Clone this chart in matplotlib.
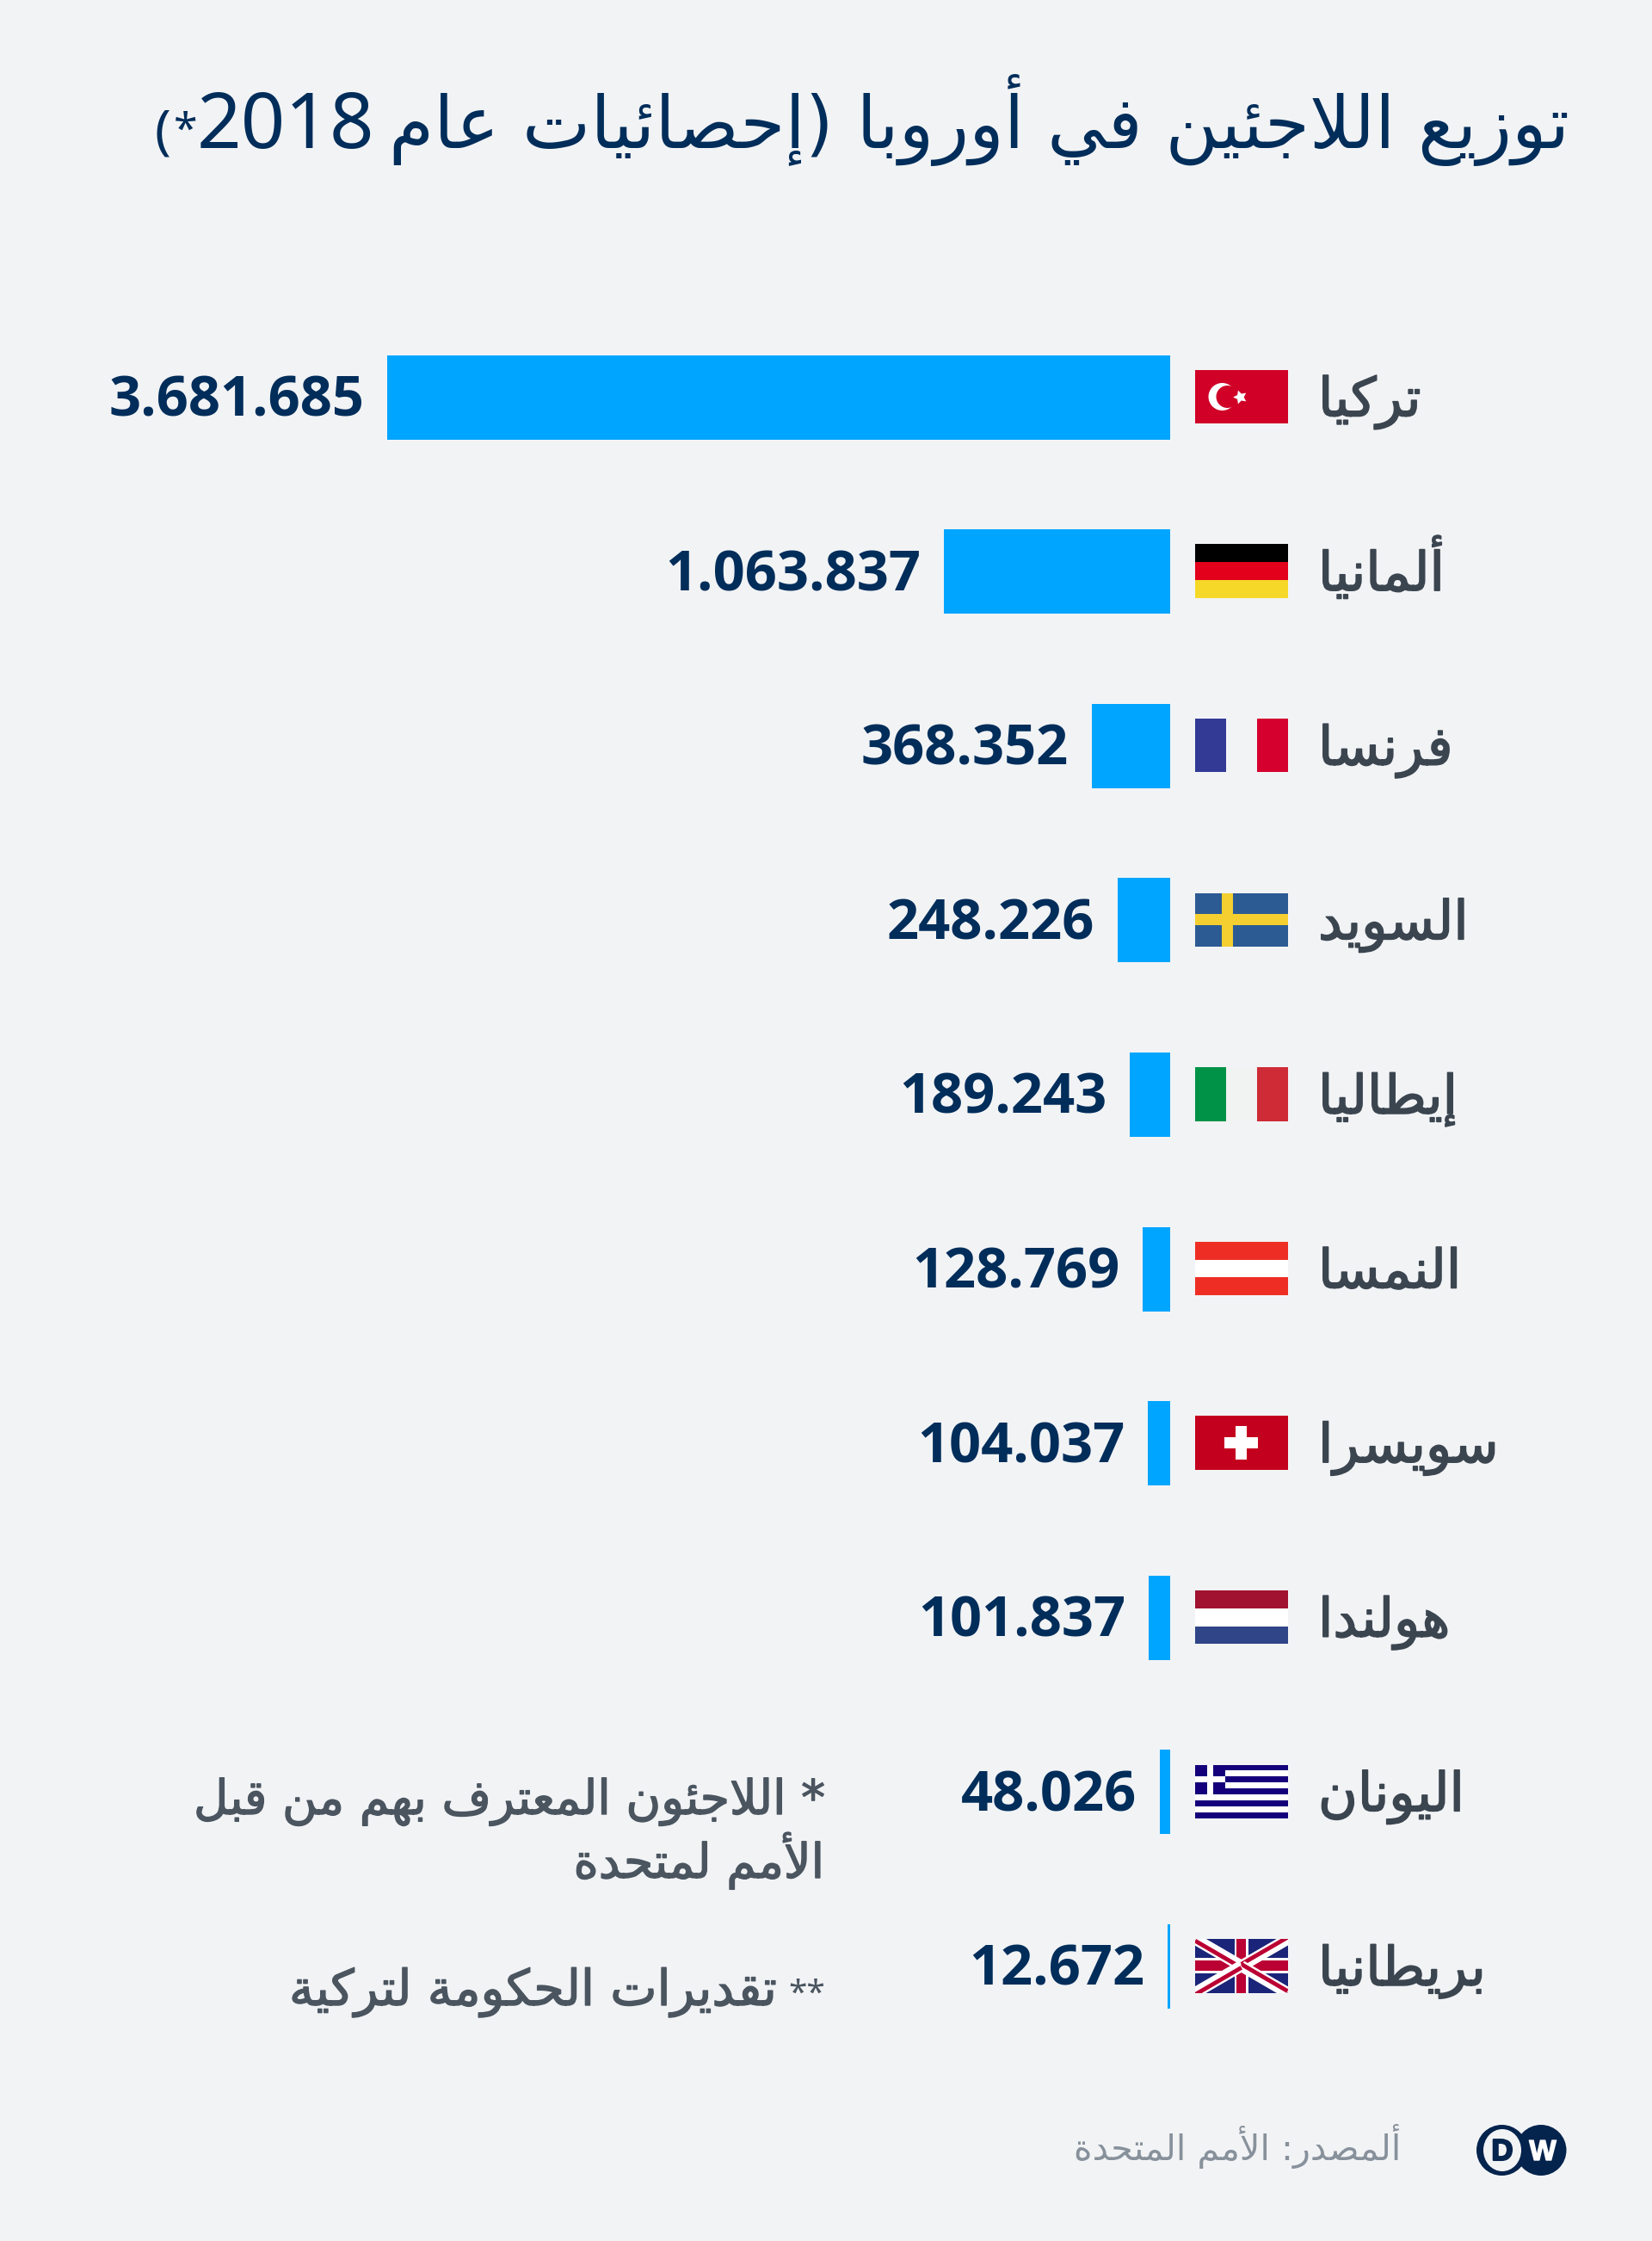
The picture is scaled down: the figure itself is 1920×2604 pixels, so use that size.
import re
import numpy as np
import matplotlib
matplotlib.use('Agg')
from matplotlib import pyplot as plt
from matplotlib.patches import Rectangle, Ellipse
import matplotlib.patheffects as pe

countries = ['تركيا', 'ألمانيا', 'فرنسا', 'السويد', 'إيطاليا', 'النمسا', 'سويسرا', 'هولندا', 'اليونان', 'بريطانيا']
refugees = [3681685, 1063837, 368352, 248226, 189243, 128769, 104037, 101837, 48026, 12672]
flag_keys = ['tr', 'de', 'fr', 'se', 'it', 'at', 'ch', 'nl', 'gr', 'uk']

title_ar = 'توزيع اللاجئين في أوروبا (إحصائيات عام'
title_year = '2018'
note_1 = ['* اللاجئون المعترف بهم من قبل', 'الأمم لمتحدة']
note_2 = 'تقديرات الحكومة لتركية'
source = 'ألمصدر: الأمم المتحدة'

BG = '#f2f3f5'
BLUE = '#00a5ff'
NAVY = '#002d5a'
LOGO = '#04234d'
W, H = 1920, 2604
ROW0, ROW_STEP = 461.5, 202.6
FLAG_X, FLAG_W, FLAG_H = 1389, 107.5, 62.5

# first code point of each letter in Arabic Presentation Forms-B, and its number of forms
FORMS = {'آ': (0xFE81, 2), 'أ': (0xFE83, 2), 'إ': (0xFE87, 2), 'ئ': (0xFE89, 4), 'ا': (0xFE8D, 2),
         'ب': (0xFE8F, 4), 'ة': (0xFE93, 2), 'ت': (0xFE95, 4), 'ج': (0xFE9D, 4), 'ح': (0xFEA1, 4),
         'د': (0xFEA9, 2), 'ر': (0xFEAD, 2), 'ز': (0xFEAF, 2), 'س': (0xFEB1, 4), 'ص': (0xFEB9, 4),
         'ط': (0xFEC1, 4), 'ع': (0xFEC9, 4), 'ف': (0xFED1, 4), 'ق': (0xFED5, 4), 'ك': (0xFED9, 4),
         'ل': (0xFEDD, 4), 'م': (0xFEE1, 4), 'ن': (0xFEE5, 4), 'ه': (0xFEE9, 4), 'و': (0xFEED, 2),
         'ي': (0xFEF1, 4)}
LAM_ALEF = {'ا': 0xFEFB, 'أ': 0xFEF7, 'إ': 0xFEF9, 'آ': 0xFEF5}
MIRROR = {'(': ')', ')': '('}


def shape(text):
    # matplotlib does not shape Arabic, so pick the joined forms and lay it out right to left
    out = []
    i = 0
    prev_joins = False
    while i < len(text):
        c = text[i]
        if c == 'ل' and i + 1 < len(text) and text[i + 1] in LAM_ALEF:
            out.append(chr(LAM_ALEF[text[i + 1]] + (1 if prev_joins else 0)))
            prev_joins = False
            i += 2
            continue
        if c not in FORMS:
            out.append(MIRROR.get(c, c))
            prev_joins = False
            i += 1
            continue
        start, n = FORMS[c]
        next_joins = i + 1 < len(text) and text[i + 1] in FORMS
        if n == 2:
            form = 1 if prev_joins else 0
            prev_joins = False
        else:
            form = (3 if next_joins else 1) if prev_joins else (2 if next_joins else 0)
            prev_joins = next_joins
        out.append(chr(start + form))
        i += 1
    visual = ''.join(reversed(out))
    return re.sub(r'[0-9]+', lambda m: m.group(0)[::-1], visual)


def heavier(lw, color):
    return [pe.withStroke(linewidth=lw, foreground=color)]


def rect(ax, x, y, w, h, color, **kw):
    ax.add_patch(Rectangle((x, y), w, h, facecolor=color, edgecolor='none', **kw))


def draw_flag(ax, key, cy):
    x, y = FLAG_X, cy - FLAG_H / 2
    fw, fh = FLAG_W, FLAG_H
    if key == 'tr':
        rect(ax, x, y, fw, fh, '#d00027')
        ax.add_patch(Ellipse((x + 31.5, cy), 32, 32, facecolor='white', edgecolor='none'))
        ax.add_patch(Ellipse((x + 37.5, cy), 26, 26, facecolor='#d00027', edgecolor='none'))
        ax.plot([x + 52], [cy], marker=(5, 1, 90), ms=12, color='white', mew=0)
    elif key in ('de', 'at', 'nl'):
        cols = {'de': ['#000000', '#e2001a', '#f6d928'],
                'at': ['#ee2e24', '#ffffff', '#ee2e24'],
                'nl': ['#a0122f', '#ffffff', '#2f4588']}[key]
        for j, col in enumerate(cols):
            rect(ax, x, y + j * fh / 3, fw, fh / 3, col)
    elif key in ('fr', 'it'):
        cols = {'fr': ['#323a96', '#f2f3f5', '#d6002f'], 'it': ['#009246', '#f1f2f2', '#ce2b37']}[key]
        for j, col in enumerate(cols):
            rect(ax, x + j * fw / 3, y, fw / 3, fh, col)
    elif key == 'se':
        rect(ax, x, y, fw, fh, '#2c5b94')
        rect(ax, x + 31, y, 12.7, fh, '#f4cf2f')
        rect(ax, x, y + 24.5, fw, 12.5, '#f4cf2f')
    elif key == 'ch':
        rect(ax, x, y, fw, fh, '#c4001f')
        rect(ax, x + 34, y + 25, 39, 13, 'white')
        rect(ax, x + 47, y + 11.5, 13, 39, 'white')
    elif key == 'gr':
        rect(ax, x, y, fw, fh, 'white')
        for j in range(0, 9, 2):
            rect(ax, x, y + j * fh / 9, fw, fh / 9, '#14007a')
        rect(ax, x, y, 35, 5 * fh / 9, '#14007a')
        rect(ax, x + 14, y, 7.3, 5 * fh / 9, 'white')
        rect(ax, x, y + 2 * fh / 9, 35, fh / 9, 'white')
    elif key == 'uk':
        clip = Rectangle((x, y), fw, fh, transform=ax.transData)
        rect(ax, x, y, fw, fh, '#1a2478')
        mid = x + fw / 2
        # white saltire, then the red arms shifted a little off its centre line
        for corner_x, corner_y, shift in [(x, y, 2), (x + fw, y, -2), (x + fw, y + fh, -2), (x, y + fh, 2)]:
            ln, = ax.plot([corner_x, mid], [corner_y, cy], color='white', lw=9.5, solid_capstyle='butt')
            ln.set_clip_path(clip)
            ln, = ax.plot([corner_x, mid], [corner_y + shift, cy + shift], color='#bb0033', lw=3.5, solid_capstyle='butt')
            ln.set_clip_path(clip)
        rect(ax, mid - 8, y, 16, fh, 'white')
        rect(ax, x, cy - 9, fw, 18, 'white')
        rect(ax, mid - 5.3, y, 10.6, fh, '#bb0033')
        rect(ax, x, cy - 6, fw, 12, '#bb0033')


fig = plt.figure(figsize=(W / 100, H / 100), dpi=100, facecolor=BG)

# bars: zero sits at x=1360, the largest value reaches x=450
ax = fig.add_axes([450 / W, 0, 910 / W, 1])
ax.set_xlim(refugees[0], 0)
ax.set_ylim((H - ROW0) / ROW_STEP, -ROW0 / ROW_STEP)
ax.axis('off')
ypos = np.arange(len(refugees))
ax.barh(ypos, refugees, height=98 / ROW_STEP, color=BLUE)
for i, val in enumerate(refugees):
    label = f'{val:,}'.replace(',', '.')
    ax.annotate(label, xy=(val, i), xytext=(-27, -22), textcoords='offset pixels', ha='right', va='baseline',
                fontsize=46.8, fontweight='bold', color=NAVY, family=['Open Sans', 'DejaVu Sans'])

# everything else is placed in pixels
px = fig.add_axes([0, 0, 1, 1])
px.set_xlim(0, W)
px.set_ylim(H, 0)
px.axis('off')
px.patch.set_alpha(0)

for i, (name, key) in enumerate(zip(countries, flag_keys)):
    cy = ROW0 + i * ROW_STEP
    draw_flag(px, key, cy - 0.5)
    px.text(1532, cy + 22, shape(name), ha='left', va='baseline', fontsize=45, color='#3b4550',
            family='DejaVu Sans', path_effects=heavier(1.2, '#3b4550'))

px.text(1824, 172, shape(title_ar), ha='right', va='baseline', fontsize=60.7, color=NAVY, family='DejaVu Sans')
px.text(435, 172, title_year, ha='right', va='baseline', fontsize=65, color=NAVY, family='Noto Sans')
px.text(202, 167, '*', ha='left', va='baseline', fontsize=36, color=NAVY, family='Noto Sans')
px.text(179, 172, '(', ha='left', va='baseline', fontsize=45, color=NAVY, family='Noto Sans')

note_style = dict(ha='right', va='baseline', color='#4a5560', family='DejaVu Sans',
                  path_effects=heavier(1.0, '#4a5560'))
px.text(959, 2108, shape(note_1[0]), fontsize=40, **note_style)
px.text(958, 2182, shape(note_1[1]), fontsize=40, **note_style)
px.text(904, 2330, shape(note_2), fontsize=41.5, **note_style)
px.text(959, 2328, '**', ha='right', va='baseline', fontsize=28, color='#4a5560', family='Noto Sans')
px.text(1628, 2510, shape(source), ha='right', va='baseline', fontsize=29.7, color='#87919b', family='DejaVu Sans')

# DW logo
logo_y = 2498.5
px.add_patch(Ellipse((1791, logo_y), 59, 59, facecolor=LOGO, edgecolor='none'))
px.add_patch(Ellipse((1745.5, logo_y), 59, 59, facecolor=LOGO, edgecolor='none'))
px.add_patch(Ellipse((1746, logo_y), 44, 49, facecolor=BG, edgecolor='none'))
px.text(1746, logo_y + 11.5, 'D', ha='center', va='baseline', fontsize=25, fontweight='bold', color=LOGO,
        family='Liberation Sans', path_effects=heavier(1.5, LOGO))
px.text(1793, logo_y + 11.5, 'W', ha='center', va='baseline', fontsize=24, fontweight='bold', color='white',
        family='Liberation Sans', path_effects=heavier(1.0, 'white'))

fig.savefig('out.png', facecolor=BG)
